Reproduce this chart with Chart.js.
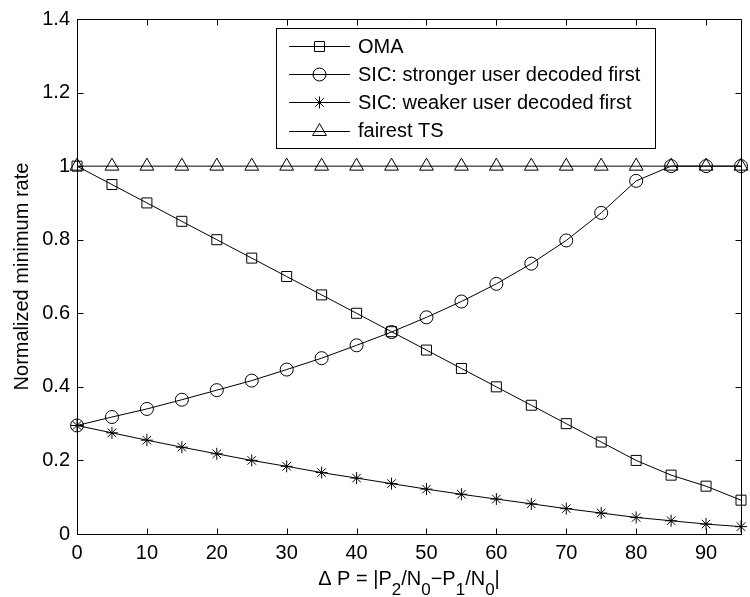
<!DOCTYPE html>
<html><head><meta charset="utf-8">
<script src="https://cdn.jsdelivr.net/npm/chart.js@4/dist/chart.umd.min.js"></script>
<style>html,body{margin:0;padding:0;background:#fff;}#wrap{width:750px;height:597px;}</style>
</head><body><div id="wrap"><canvas id="c" width="750" height="597"></canvas></div>
<script>
const deltaP = [0,5,10,15,20,25,30,35,40,45,50,55,60,65,70,75,80,85,90,95];
const oma = [1.0,0.95,0.9,0.85,0.8,0.75,0.7,0.65,0.6,0.55,0.5,0.45,0.4,0.35,0.3,0.25,0.2,0.16,0.13,0.092];
const sicStronger = [0.295,0.318,0.34,0.365,0.391,0.417,0.447,0.478,0.513,0.549,0.589,0.632,0.68,0.735,0.798,0.873,0.96,1.0,1.0,1.0];
const sicWeaker = [0.295,0.275,0.255,0.236,0.218,0.2,0.184,0.167,0.152,0.137,0.122,0.108,0.095,0.082,0.069,0.057,0.045,0.036,0.027,0.02];
const fairestTS = [1,1,1,1,1,1,1,1,1,1,1,1,1,1,1,1,1,1,1,1];
const seriesLabels = ['OMA','SIC: stronger user decoded first','SIC: weaker user decoded first','fairest TS'];
const yAxisTitle = 'Normalized minimum rate';
// x label pieces: [text, isSubscript]
const xAxisTitleParts = [['\u0394 P = |P',false],['2',true],['/N',false],['0',true],['\u2212P',false],['1',true],['/N',false],['0',true],['|',false]];

const FONT = '"Liberation Sans", Arial, Helvetica, sans-serif';
Chart.defaults.font.family = FONT;
Chart.defaults.font.size = 20;
Chart.defaults.color = '#000';

const styles = [
  {pointStyle:'rect', radius:7.07},
  {pointStyle:'circle', radius:6.5},
  {pointStyle:'star', radius:6},
  {pointStyle:'triangle', radius:8}
];
const seriesData = [oma, sicStronger, sicWeaker, fairestTS];

const datasets = seriesData.map((vals,i)=>({
  label: seriesLabels[i],
  data: deltaP.map((x,j)=>({x:x, y:vals[j]})),
  borderColor:'#000', borderWidth:1, tension:0,
  pointStyle: styles[i].pointStyle, pointRadius: styles[i].radius,
  pointBorderColor:'#000', pointBackgroundColor:'rgba(0,0,0,0)', pointBorderWidth:1,
  clip:false, fill:false
}));

const framePlugin = {
  id:'frame',
  afterDraw(chart){
    const ctx = chart.ctx, a = chart.chartArea;
    const xs = chart.scales.x, ys = chart.scales.y;
    ctx.save();
    ctx.strokeStyle = '#000'; ctx.lineWidth = 1;
    const L = Math.round(a.left)+0.5, R = Math.round(a.right)+0.5, T = Math.round(a.top)+0.5, B = Math.round(a.bottom)+0.5;
    ctx.beginPath();
    ctx.moveTo(L,T); ctx.lineTo(R,T); ctx.lineTo(R,B); ctx.lineTo(L,B); ctx.closePath();
    ctx.stroke();
    const tl = 6;
    ctx.beginPath();
    xs.ticks.forEach(t=>{
      const px = Math.round(xs.getPixelForValue(t.value))+0.5;
      ctx.moveTo(px,B); ctx.lineTo(px,B-tl);
      ctx.moveTo(px,T); ctx.lineTo(px,T+tl);
    });
    ys.ticks.forEach(t=>{
      const py = Math.round(ys.getPixelForValue(t.value))+0.5;
      ctx.moveTo(L,py); ctx.lineTo(L+tl,py);
      ctx.moveTo(R,py); ctx.lineTo(R-tl,py);
    });
    ctx.stroke();

    // legend
    const lx0 = 276.5, ly0 = 28.5, lw = 379, lh = 120;
    ctx.fillStyle = '#fff';
    ctx.fillRect(lx0, ly0, lw, lh);
    ctx.strokeRect(lx0, ly0, lw, lh);
    const rowY = [46, 74, 102.3, 130.5];
    ctx.font = '20px ' + FONT;
    ctx.textBaseline = 'middle'; ctx.textAlign = 'left';
    chart.data.datasets.forEach((ds,i)=>{
      const y = rowY[i];
      ctx.beginPath(); ctx.moveTo(289, Math.round(y)+0.5); ctx.lineTo(350, Math.round(y)+0.5);
      ctx.strokeStyle='#000'; ctx.lineWidth=1; ctx.stroke();
      ctx.fillStyle = 'rgba(0,0,0,0)';
      Chart.helpers.drawPoint(ctx, {pointStyle: ds.pointStyle, radius: ds.pointRadius, rotation:0, borderWidth:1}, 319.5, Math.round(y)+0.5);
      ctx.fillStyle = '#000';
      ctx.fillText(ds.label, 358, y+1);
    });

    // x axis title with subscripts
    const mainF = '20px ' + FONT, subF = '17px ' + FONT;
    let total = 0;
    xAxisTitleParts.forEach(p=>{ ctx.font = p[1]?subF:mainF; total += ctx.measureText(p[0]).width; });
    let x = (a.left + a.right)/2 - total/2;
    const base = 585;
    ctx.textBaseline = 'alphabetic'; ctx.fillStyle = '#000';
    xAxisTitleParts.forEach(p=>{
      ctx.font = p[1]?subF:mainF;
      ctx.fillText(p[0], x, p[1]? base+10 : base);
      x += ctx.measureText(p[0]).width;
    });
    ctx.restore();
  }
};

new Chart(document.getElementById('c'), {
  type:'line',
  data:{datasets},
  options:{
    responsive:false, animation:false, devicePixelRatio:1,
    layout:{padding:{top:16,right:0,bottom:0,left:0}},
    plugins:{legend:{display:false}, tooltip:{enabled:false}},
    scales:{
      x:{type:'linear', min:0, max:95,
        ticks:{stepSize:10, includeBounds:false, padding:7, color:'#000', font:{size:20}},
        grid:{drawOnChartArea:false, drawTicks:false},
        border:{display:true, color:'#000', width:1},
        afterFit(s){ s.height = 63; }
      },
      y:{type:'linear', min:0, max:1.4,
        ticks:{stepSize:0.2, padding:7, color:'#000', font:{size:20},
          callback:(v)=>String(Math.round(v*10)/10)},
        grid:{drawOnChartArea:false, drawTicks:false},
        border:{display:true, color:'#000', width:1},
        title:{display:true, text:yAxisTitle, color:'#000', font:{size:20}, padding:{top:10,bottom:0}},
        afterFit(s){ s.width = 77; }
      }
    }
  },
  plugins:[framePlugin]
});
</script></body></html>
